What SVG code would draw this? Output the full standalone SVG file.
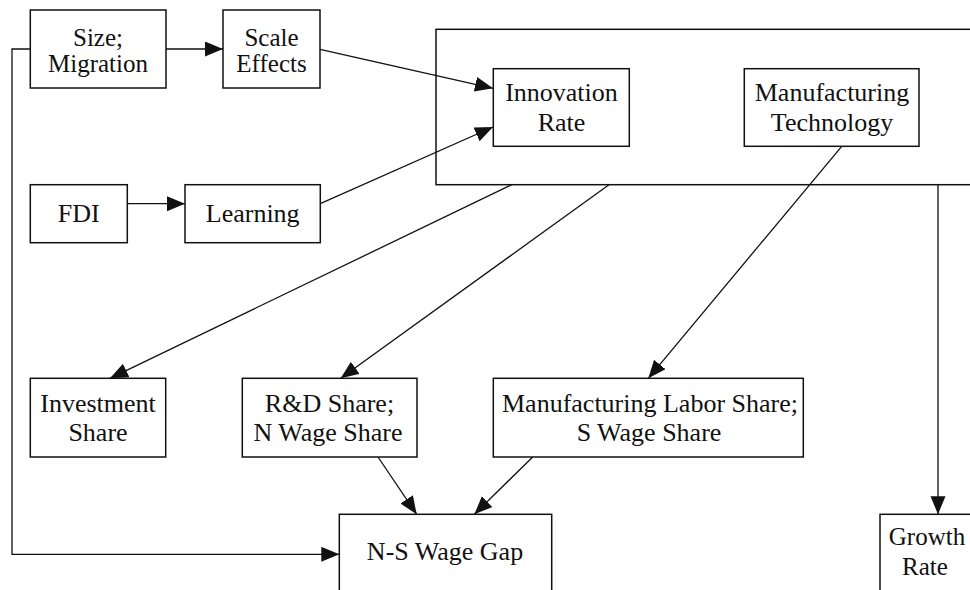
<svg xmlns="http://www.w3.org/2000/svg" width="970" height="590" viewBox="0 0 970 590">
<style>
.box{fill:#fff;stroke:#111;stroke-width:1.5}
text{font-family:'Liberation Serif','Times New Roman',Times,serif;font-size:26px;fill:#111;text-anchor:middle}
.s{font-size:25px}
.c{fill:none;stroke:#111;stroke-width:1.3}
</style>
<defs>
<marker id="ah" markerUnits="userSpaceOnUse" markerWidth="19" markerHeight="16" refX="18" refY="7.5" orient="auto" viewBox="0 0 19 16">
<path d="M0,0 L18,7.5 L0,15 z" fill="#111"/>
</marker>
</defs>
<rect width="970" height="590" fill="#fff"/>
<g id="container"><rect class="box" x="436" y="29.3" width="560" height="155.4"/></g>
<g id="size-migration" font-family="Liberation Serif, serif"><rect class="box" x="30.3" y="10" width="135.7" height="78"/><text class="s" x="98" y="46">Size;</text><text class="s" x="98" y="72">Migration</text></g>
<g id="scale-effects"><rect class="box" x="223" y="10" width="97" height="78"/><text class="s" x="271.5" y="46">Scale</text><text class="s" x="271.5" y="72">Effects</text></g>
<g id="innovation-rate"><rect class="box" x="493.3" y="68.7" width="136" height="77.6"/><text x="561.5" y="101">Innovation</text><text x="561.5" y="130.7">Rate</text></g>
<g id="manufacturing-technology"><rect class="box" x="744.3" y="68.7" width="174.7" height="77.6"/><text x="832" y="101">Manufacturing</text><text x="832" y="130.7">Technology</text></g>
<g id="fdi"><rect class="box" x="30.3" y="184.7" width="97" height="58"/><text x="78.8" y="222.3">FDI</text></g>
<g id="learning"><rect class="box" x="185" y="184.7" width="135.3" height="58"/><text x="252.7" y="222.3">Learning</text></g>
<g id="investment-share"><rect class="box" x="30.3" y="378.3" width="135.4" height="78.7"/><text x="98" y="411.7">Investment</text><text x="98" y="441">Share</text></g>
<g id="rd-share"><rect class="box" x="242.3" y="378.3" width="174.7" height="78.7"/><text x="329.5" y="411.7">R&amp;D Share;</text><text x="328" y="441">N Wage Share</text></g>
<g id="manufacturing-labor-share"><rect class="box" x="493.3" y="378.3" width="310" height="78.7"/><text x="650" y="411.7">Manufacturing Labor Share;</text><text x="649" y="441">S Wage Share</text></g>
<g id="ns-wage-gap"><rect class="box" x="339.3" y="514.3" width="212.4" height="90"/><text x="445" y="560">N-S Wage Gap</text></g>
<g id="growth-rate"><rect class="box" x="880" y="514.3" width="100" height="90"/><text class="s" x="927" y="545">Growth</text><text class="s" x="925" y="575">Rate</text></g>
<g id="connectors">
<line class="c" x1="166" y1="49" x2="223" y2="49" marker-end="url(#ah)"/>
<line class="c" x1="320" y1="49.3" x2="493" y2="88.3" marker-end="url(#ah)"/>
<line class="c" x1="127.3" y1="203.7" x2="185" y2="203.7" marker-end="url(#ah)"/>
<line class="c" x1="320.3" y1="203.7" x2="493" y2="127" marker-end="url(#ah)"/>
<line class="c" x1="511.7" y1="184.7" x2="110" y2="378.3" marker-end="url(#ah)"/>
<line class="c" x1="609" y1="184.7" x2="340.7" y2="378.3" marker-end="url(#ah)"/>
<line class="c" x1="841.7" y1="146.3" x2="648.3" y2="378.3" marker-end="url(#ah)"/>
<line class="c" x1="938" y1="184.7" x2="938" y2="514.3" marker-end="url(#ah)"/>
<line class="c" x1="378" y1="457" x2="416.7" y2="514.3" marker-end="url(#ah)"/>
<line class="c" x1="532.7" y1="457" x2="474.3" y2="514.3" marker-end="url(#ah)"/>
<polyline class="c" points="30.3,49 12,49 12,554.3 339.3,554.3" marker-end="url(#ah)"/>
</g>
</svg>
